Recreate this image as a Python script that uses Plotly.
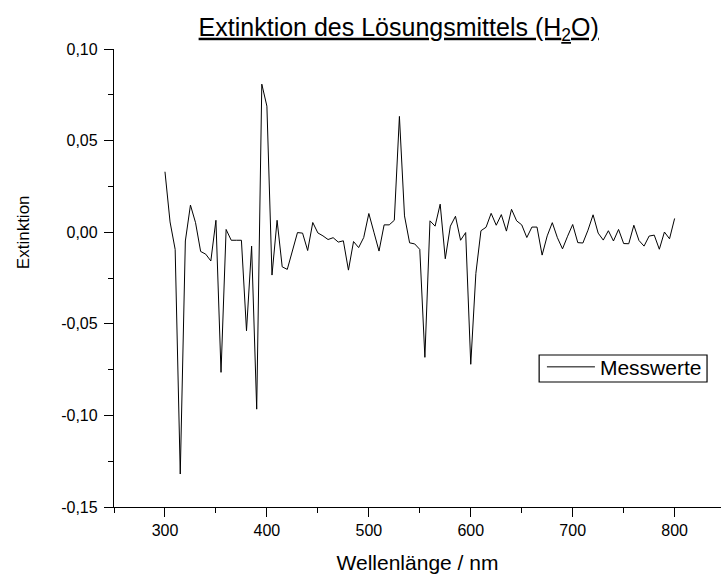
import plotly.graph_objects as go

wavelength_nm = [
    300, 305, 310, 315, 320, 325, 330, 335, 340, 345,
    350, 355, 360, 365, 370, 375, 380, 385, 390, 395,
    400, 405, 410, 415, 420, 425, 430, 435, 440, 445,
    450, 455, 460, 465, 470, 475, 480, 485, 490, 495,
    500, 505, 510, 515, 520, 525, 530, 535, 540, 545,
    550, 555, 560, 565, 570, 575, 580, 585, 590, 595,
    600, 605, 610, 615, 620, 625, 630, 635, 640, 645,
    650, 655, 660, 665, 670, 675, 680, 685, 690, 695,
    700, 705, 710, 715, 720, 725, 730, 735, 740, 745,
    750, 755, 760, 765, 770, 775, 780, 785, 790, 795,
    800,
]

extinktion = [
    0.0330, 0.0056, -0.0094, -0.1320, -0.0048, 0.0148, 0.0052, -0.0105, -0.0120, -0.0157,
    0.0065, -0.0765, 0.0015, -0.0044, -0.0044, -0.0044, -0.0538, -0.0076, -0.0966, 0.0808,
    0.0688, -0.0234, 0.0065, -0.0189, -0.0203, -0.0102, -0.0002, -0.0005, -0.0100, 0.0053,
    -0.0004, -0.0020, -0.0040, -0.0030, -0.0054, -0.0047, -0.0207, -0.0051, -0.0084, -0.0029,
    0.0102, 0.0000, -0.0103, 0.0040, 0.0040, 0.0065, 0.0632, 0.0089, -0.0058, -0.0064,
    -0.0094, -0.0683, 0.0062, 0.0033, 0.0153, -0.0145, 0.0033, 0.0087, -0.0044, -0.0002,
    -0.0721, -0.0225, 0.0008, 0.0027, 0.0103, 0.0038, 0.0096, 0.0006, 0.0125, 0.0062,
    0.0040, -0.0029, 0.0028, 0.0028, -0.0125, -0.0020, 0.0052, -0.0030, -0.0091, -0.0022,
    0.0042, -0.0057, -0.0059, 0.0011, 0.0095, -0.0005, -0.0043, 0.0008, -0.0048, 0.0015,
    -0.0062, -0.0063, 0.0038, -0.0045, -0.0076, -0.0021, -0.0016, -0.0093, 0.0001, -0.0036,
    0.0075,
]

x_tick_vals = [300, 400, 500, 600, 700, 800]
x_tick_labels = ["300", "400", "500", "600", "700", "800"]
y_tick_vals = [-0.15, -0.10, -0.05, 0.00, 0.05, 0.10]
y_tick_labels = ["-0,15", "-0,10", "-0,05", "0,00", "0,05", "0,10"]

FONT = "Liberation Sans, Arial, sans-serif"

fig = go.Figure()
fig.add_trace(go.Scatter(
    x=wavelength_nm, y=extinktion, mode="lines", name="Messwerte",
    line=dict(color="black", width=1),
))

axis_common = dict(
    showgrid=False, zeroline=False, showline=True, linecolor="black", linewidth=1.3,
    ticks="outside", ticklen=9, tickwidth=1.3, tickcolor="black",
    tickfont=dict(family=FONT, size=16, color="black"),
    mirror=False,
)

fig.update_layout(
    width=721, height=574,
    margin=dict(l=114, r=0, t=49, b=67),
    paper_bgcolor="white", plot_bgcolor="white",
    font=dict(family=FONT, color="black"),
    title=dict(
        text="<u>Extinktion des Lösungsmittels (H<sub>2</sub>O)</u>",
        font=dict(family=FONT, size=25, color="black"),
        x=0.553, xanchor="center", xref="container",
        y=0.953, yanchor="middle", yref="container",
    ),
    xaxis=dict(
        **axis_common,
        range=[250, 845.5],
        tickmode="array", tickvals=x_tick_vals, ticktext=x_tick_labels,
        minor=dict(tickmode="linear", tick0=0, dtick=50, ticks="outside", ticklen=5,
                   tickwidth=1.3, tickcolor="black", showgrid=False),
        title=dict(text="Wellenlänge / nm", font=dict(family=FONT, size=21, color="black"),
                   standoff=16),
    ),
    yaxis=dict(
        **axis_common,
        range=[-0.15, 0.10],
        ticklabelstandoff=3,
        tickmode="array", tickvals=y_tick_vals, ticktext=y_tick_labels,
        minor=dict(tickmode="linear", tick0=0, dtick=0.025, ticks="outside", ticklen=5,
                   tickwidth=1.3, tickcolor="black", showgrid=False),
    ),
    annotations=[dict(
        text="Extinktion", textangle=-90, showarrow=False,
        xref="paper", yref="paper", x=-0.15, y=0.600,
        xanchor="center", yanchor="middle",
        font=dict(family=FONT, size=17, color="black"),
    )],
    shapes=[dict(
        type="rect", xref="paper", yref="paper",
        x0=0.7004, x1=0.9770, y0=0.2729, y1=0.3319,
        line=dict(color="black", width=1.2), fillcolor="rgba(0,0,0,0)",
    )],
    showlegend=True,
    legend=dict(
        x=0.705, y=0.350, xanchor="left", yanchor="top",
        borderwidth=0, bgcolor="rgba(0,0,0,0)",
        font=dict(family=FONT, size=21, color="black"),
        itemwidth=48, tracegroupgap=0,
    ),
)

fig.write_html("out.html")
